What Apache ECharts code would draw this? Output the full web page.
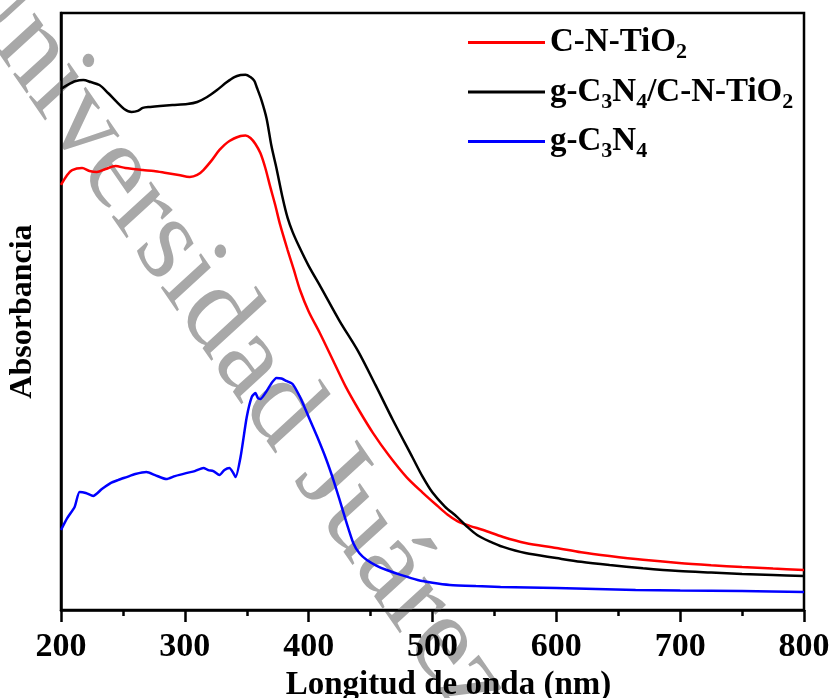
<!DOCTYPE html>
<html>
<head>
<meta charset="utf-8">
<script src="https://cdn.jsdelivr.net/npm/echarts@6/dist/echarts.min.js"></script>
<style>
  html, body { margin: 0; padding: 0; background: #fff; }
  #chart { width: 830px; height: 698px; }
</style>
</head>
<body>
<div id="chart"></div>
<script>
// UV-Vis absorbance spectra (arbitrary units)
const xTicks = [200, 300, 400, 500, 600, 700, 800];

const cntWl  = [200, 205, 209, 217, 223, 229, 236, 244, 252, 266, 275, 285, 295, 304, 310, 315, 322, 328, 336, 345, 349, 353, 357, 361, 365, 369, 373, 377, 383, 388, 393, 400, 409, 420, 430, 441, 452, 465, 479, 492, 504, 512, 520, 530, 541, 557, 575, 600, 620, 643, 670, 699, 725, 750, 775, 800];
const cntAbs = [2.136, 2.186, 2.211, 2.221, 2.206, 2.201, 2.216, 2.231, 2.221, 2.211, 2.206, 2.196, 2.186, 2.176, 2.186, 2.211, 2.262, 2.312, 2.357, 2.382, 2.385, 2.372, 2.342, 2.296, 2.221, 2.126, 2.035, 1.935, 1.809, 1.710, 1.608, 1.500, 1.392, 1.250, 1.121, 1.000, 0.889, 0.775, 0.668, 0.590, 0.523, 0.480, 0.447, 0.423, 0.402, 0.367, 0.337, 0.312, 0.290, 0.271, 0.252, 0.236, 0.225, 0.216, 0.208, 0.201];

const compWl  = [200, 205, 212, 218, 224, 231, 238, 245, 251, 257, 262, 266, 272, 280, 290, 302, 310, 318, 326, 334, 340, 345, 349, 353, 356, 358, 362, 366, 370, 374, 379, 383, 387, 392, 400, 410, 425, 440, 454, 468, 484, 492, 500, 510, 520, 528, 536, 546, 557, 575, 600, 620, 643, 670, 699, 725, 750, 775, 800];
const compAbs = [2.618, 2.638, 2.658, 2.663, 2.653, 2.638, 2.598, 2.553, 2.518, 2.503, 2.508, 2.523, 2.528, 2.533, 2.538, 2.543, 2.553, 2.578, 2.613, 2.653, 2.678, 2.688, 2.690, 2.678, 2.660, 2.628, 2.560, 2.470, 2.330, 2.220, 2.070, 1.970, 1.900, 1.830, 1.729, 1.620, 1.452, 1.300, 1.130, 0.955, 0.765, 0.670, 0.590, 0.520, 0.467, 0.418, 0.377, 0.345, 0.317, 0.286, 0.261, 0.242, 0.226, 0.210, 0.196, 0.188, 0.181, 0.176, 0.171];

const gcnWl  = [200, 205, 211, 215, 220, 226, 233, 240, 246, 253, 260, 269, 276, 285, 292, 301, 308, 315, 319, 323, 328, 332, 336, 339, 341, 345, 350, 354, 357, 359, 361, 365, 370, 374, 378, 382, 387, 393, 400, 407, 414, 420, 425, 430, 436, 441, 447, 455, 463, 475, 488, 500, 514, 535, 555, 600, 664, 700, 750, 800];
const gcnAbs = [0.402, 0.462, 0.518, 0.593, 0.588, 0.573, 0.608, 0.638, 0.653, 0.668, 0.683, 0.693, 0.678, 0.658, 0.673, 0.688, 0.698, 0.714, 0.703, 0.698, 0.678, 0.704, 0.714, 0.690, 0.668, 0.769, 0.970, 1.070, 1.090, 1.065, 1.060, 1.090, 1.140, 1.166, 1.163, 1.151, 1.136, 1.070, 0.970, 0.869, 0.760, 0.653, 0.553, 0.450, 0.337, 0.285, 0.251, 0.222, 0.201, 0.175, 0.151, 0.137, 0.126, 0.120, 0.116, 0.111, 0.101, 0.098, 0.095, 0.090];

const seriesNames = ['C-N-TiO2', 'g-C3N4/C-N-TiO2', 'g-C3N4'];
const legendLabels = {
  'C-N-TiO2': 'C-N-TiO{s|2}',
  'g-C3N4/C-N-TiO2': 'g-C{s|3}N{s|4}/C-N-TiO{s|2}',
  'g-C3N4': 'g-C{s|3}N{s|4}'
};

const pairs = (xs, ys) => xs.map((x, i) => [x, ys[i]]);
const serif = '"Liberation Serif", "Times New Roman", serif';

const chart = echarts.init(document.getElementById('chart'), null, { renderer: 'canvas' });

function lineSeries(name, color, xs, ys, smooth) {
  return {
    name: name,
    type: 'line',
    data: pairs(xs, ys),
    showSymbol: false,
    symbol: 'none',
    smooth: smooth,
    lineStyle: { color: color, width: 2.5 },
    itemStyle: { color: color },
    z: 3
  };
}

chart.setOption({
  backgroundColor: '#fff',
  animation: false,
  graphic: [{
    // diagonal watermark, slightly stretched vertically
    type: 'group',
    x: 228, y: 332,
    scaleY: 1.15,
    z: -10,
    silent: true,
    children: [{
      type: 'text',
      rotation: -51.5 * Math.PI / 180,
      style: {
        text: 'Universidad Juárez',
        fill: '#a8a8a8',
        font: '109px "Liberation Serif", "Times New Roman", serif',
        textAlign: 'center',
        textVerticalAlign: 'middle'
      }
    }]
  }],
  grid: {
    left: 61, right: 26, top: 13, bottom: 88,
    outerBoundsMode: 'none',
    containLabel: false,
    show: true, borderColor: '#000', borderWidth: 2.5, backgroundColor: 'transparent'
  },
  legend: {
    orient: 'vertical',
    left: 463, top: 21,
    icon: 'rect',
    itemWidth: 77, itemHeight: 3, itemGap: 12,
    data: seriesNames,
    formatter: name => legendLabels[name],
    textStyle: {
      fontFamily: serif, fontWeight: 'bold', fontSize: 33, color: '#000',
      rich: {
        s: { fontFamily: serif, fontWeight: 'bold', fontSize: 22, color: '#000', padding: [20, 0, 0, 0] }
      }
    }
  },
  xAxis: {
    type: 'value',
    min: 200, max: 800, interval: 100,
    name: 'Longitud de onda (nm)',
    nameLocation: 'middle',
    nameGap: 57,
    nameTextStyle: { fontFamily: serif, fontWeight: 'bold', fontSize: 33, color: '#000', padding: [0, 0, 0, 32] },
    axisLine: { show: true, lineStyle: { color: '#000', width: 2.5 } },
    axisTick: { show: true, inside: false, length: 12, lineStyle: { color: '#000', width: 2.5 } },
    minorTick: { show: true, splitNumber: 2, length: 6, lineStyle: { color: '#000', width: 2.5 } },
    splitLine: { show: false },
    axisLabel: {
      fontFamily: serif, fontWeight: 'bold', fontSize: 34, color: '#000', margin: 20,
      formatter: v => (xTicks.indexOf(v) >= 0 ? String(v) : '')
    }
  },
  yAxis: {
    type: 'value',
    min: 0, max: 3,
    name: 'Absorbancia',
    nameLocation: 'middle',
    nameGap: 22,
    nameRotate: 90,
    nameTextStyle: { fontFamily: serif, fontWeight: 'bold', fontSize: 32, color: '#000' },
    axisLine: { show: true, lineStyle: { color: '#000', width: 2.5 } },
    axisTick: { show: false },
    axisLabel: { show: false },
    splitLine: { show: false }
  },
  series: [
    lineSeries(seriesNames[0], '#ff0000', cntWl, cntAbs, 0.3),
    lineSeries(seriesNames[1], '#000000', compWl, compAbs, 0.3),
    lineSeries(seriesNames[2], '#0000ff', gcnWl, gcnAbs, 0.2)
  ]
});
</script>
</body>
</html>
